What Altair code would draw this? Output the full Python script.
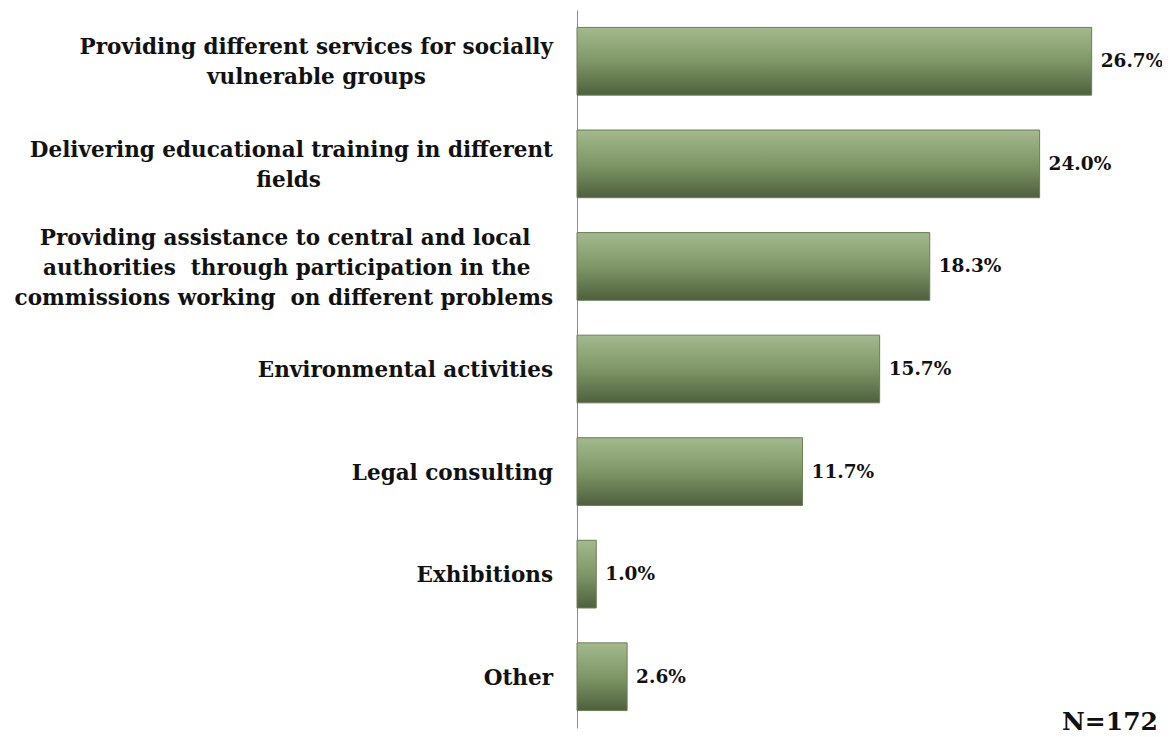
import altair as alt
import pandas as pd

NB = "\u00a0"
WJ = "\u2060"

categories = [
    "Providing different services for socially\nvulnerable groups",
    "Delivering educational training in different\nfields",
    "Providing assistance to central and local\nauthorities" + NB + " through participation in the\ncommissions working" + NB + " on different problems",
    "Environmental activities",
    "Legal consulting",
    "Exhibitions",
    "Other",
]
values = [26.7, 24.0, 18.3, 15.7, 11.7, 1.0, 2.6]
value_labels = ["26.7%", "24.0%", "18.3%", "15.7%", "11.7%", "1.0%", "2.6%"]
note = "N=172"

# trailing no-break spaces so that each multi-line label is centred in its own block
line_pads = {0: [0, 17], 1: [0, 31], 2: [3, 3, 0]}


def padded(i, label):
    lines = label.split("\n")
    pads = line_pads.get(i, [0] * len(lines))
    return "\n".join((l + NB * p + WJ) if p else l for l, p in zip(lines, pads))


display = [padded(i, c) for i, c in enumerate(categories)]

df = pd.DataFrame({"cat": categories, "disp": display, "val": values, "lab": value_labels})
FONT = "DejaVu Serif"
LH = 30

y_enc = alt.Y(
    "cat:N",
    sort=categories,
    scale=alt.Scale(paddingInner=0.34, paddingOuter=0.17),
    axis=alt.Axis(
        title=None,
        ticks=False,
        labels=False,
        domainColor="#8c8c8c",
        domainWidth=1,
    ),
)
x_enc = alt.X("val:Q", scale=alt.Scale(domain=[0, 29], nice=False), axis=None)

grad = alt.Gradient(
    gradient="linear",
    x1=0, y1=0, x2=0, y2=1,
    stops=[
        alt.GradientStop(color="#a3b98e", offset=0),
        alt.GradientStop(color="#7f9767", offset=0.5),
        alt.GradientStop(color="#4e603e", offset=1),
    ],
)

bars = alt.Chart(df).mark_bar(color=grad, stroke="#6a7f55", strokeWidth=1).encode(
    y=y_enc, x=x_enc
)

cat_labels = (
    alt.Chart(df)
    .transform_calculate(
        off="-(length(split(datum.disp, '\\n')) - 1) * %d / 2 + 36" % LH
    )
    .mark_text(
        align="right",
        baseline="middle",
        lineBreak="\n",
        lineHeight=LH,
        font=FONT,
        fontSize=21.5,
        fontWeight="bold",
        color="#111111",
    )
    .encode(
        y=alt.Y("cat:N", sort=categories),
        yOffset=alt.YOffset("off:Q", scale=None),
        x=alt.value(-24),
        text="disp:N",
    )
)

texts = alt.Chart(df).mark_text(
    align="left", dx=9, font=FONT, fontSize=18.5, fontWeight="bold", color="#111111"
).encode(y=alt.Y("cat:N", sort=categories), x="val:Q", text="lab:N")

ndf = pd.DataFrame({"t": [note]})
ntext = alt.Chart(ndf).mark_text(
    align="right", baseline="alphabetic", font=FONT, fontSize=25, fontWeight="bold", color="#111111"
).encode(x=alt.value(581), y=alt.value(720), text="t:N")

chart = (
    alt.layer(bars, cat_labels, texts, ntext)
    .properties(
        width=559,
        height=718,
        autosize=alt.AutoSizeParams(type="none"),
        padding={"left": 569, "top": 2, "right": 26, "bottom": 9},
    )
    .configure(background="white")
    .configure_view(strokeWidth=0, stroke="transparent")
)

chart.save("out.html", embed_options={"renderer": "svg", "actions": False})
